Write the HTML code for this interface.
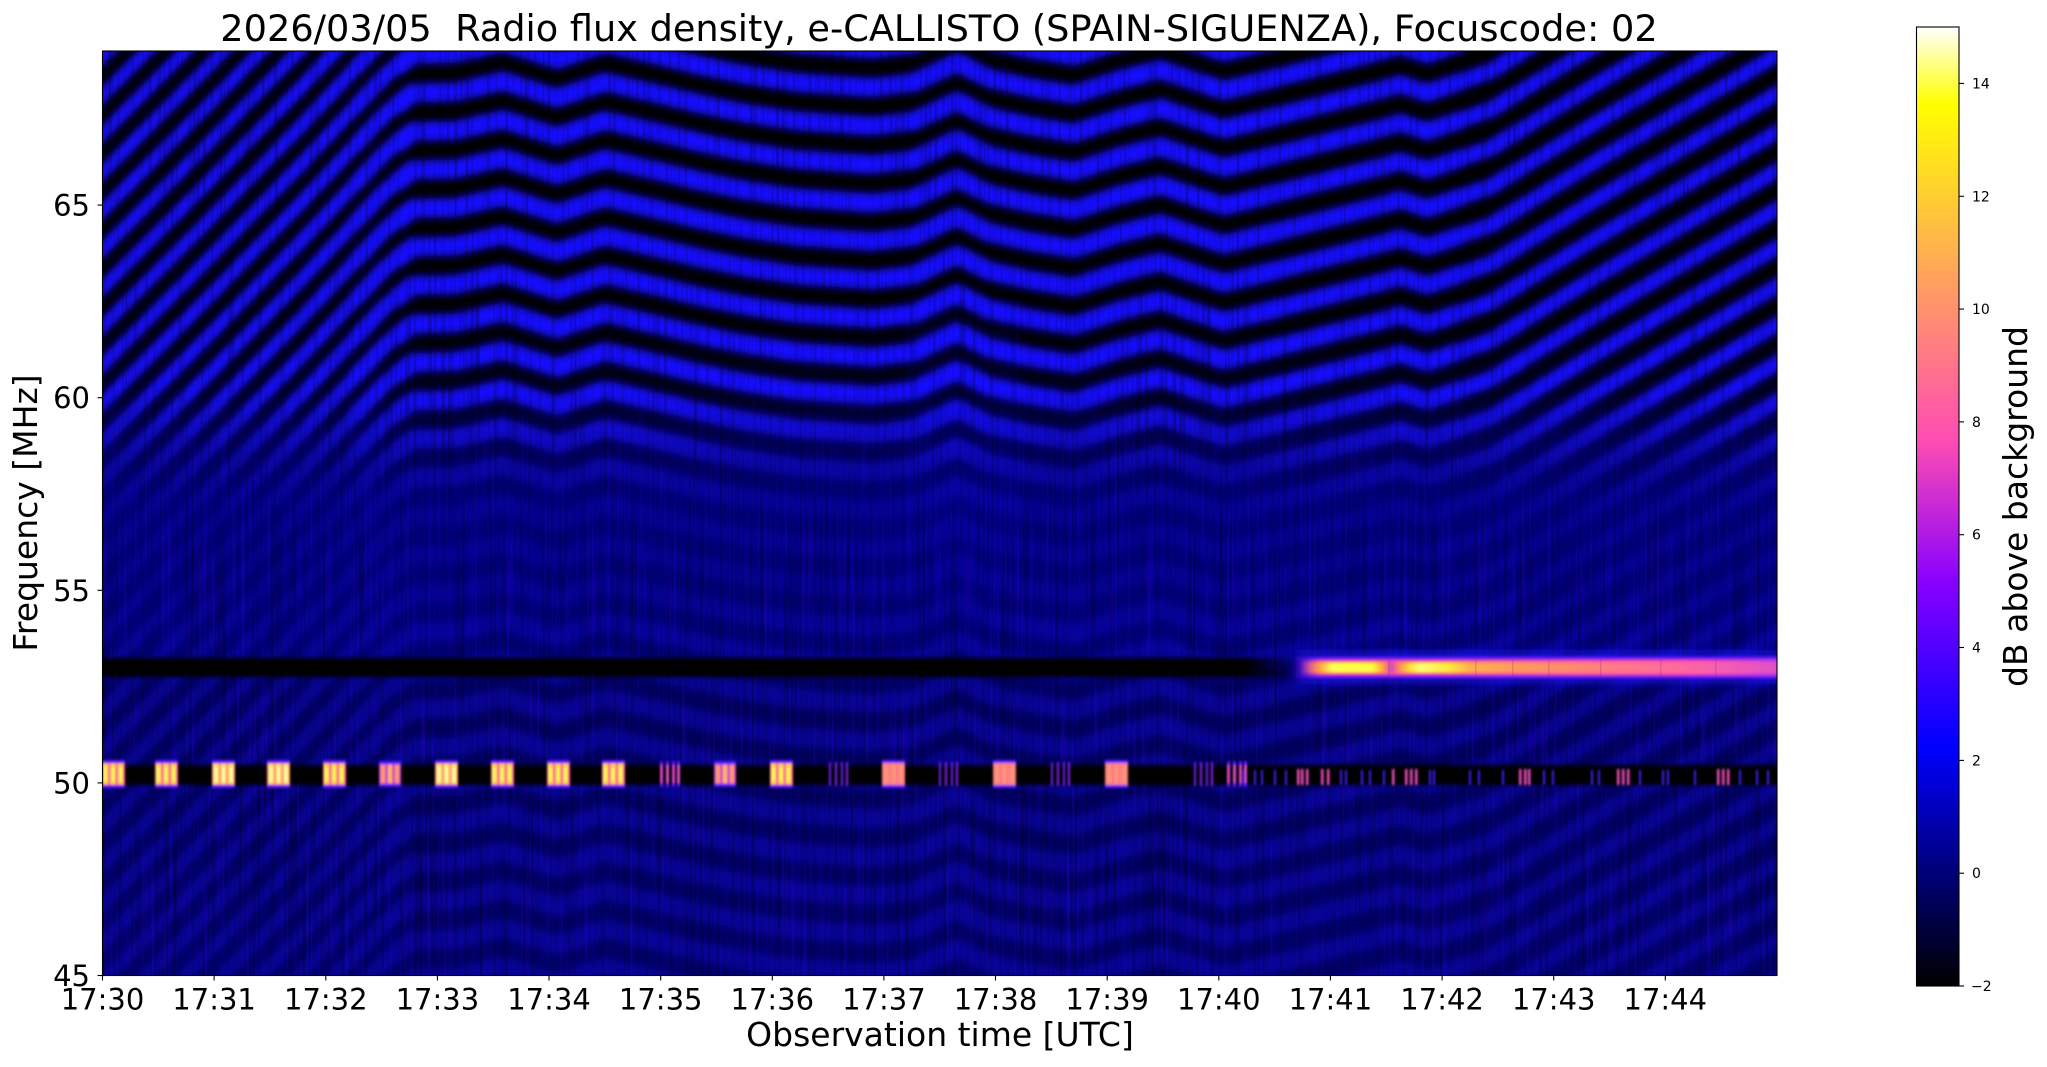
<!DOCTYPE html>
<html><head><meta charset="utf-8">
<style>html,body{margin:0;padding:0;background:#fff;width:2047px;height:1067px;overflow:hidden;}svg{display:block}</style>
</head><body>
<svg width="2047" height="1067" viewBox="0 0 2047 1067" xmlns="http://www.w3.org/2000/svg" xmlns:xlink="http://www.w3.org/1999/xlink" font-family="DejaVu Sans, Liberation Sans, sans-serif">
<defs>
  <clipPath id="pc"><rect x="102.5" y="51" width="1674.5" height="924.5"/></clipPath>
  <linearGradient id="bg" gradientUnits="userSpaceOnUse" x1="0" y1="51" x2="0" y2="975">
    <stop offset="0" stop-color="#000000"/>
    <stop offset="0.29" stop-color="#000004"/>
    <stop offset="0.367" stop-color="#00001c"/>
    <stop offset="0.421" stop-color="#000050"/>
    <stop offset="0.486" stop-color="#000078"/>
    <stop offset="0.637" stop-color="#000074"/>
    <stop offset="0.702" stop-color="#00005c"/>
    <stop offset="1" stop-color="#000066"/>
  </linearGradient>
  <linearGradient id="mg" gradientUnits="userSpaceOnUse" x1="0" y1="51" x2="0" y2="975">
    <stop offset="0" stop-color="#ffffff"/>
    <stop offset="0.367" stop-color="#ffffff"/>
    <stop offset="0.41" stop-color="#bfbfbf"/>
    <stop offset="0.453" stop-color="#666666"/>
    <stop offset="0.496" stop-color="#303030"/>
    <stop offset="0.583" stop-color="#303030"/>
    <stop offset="0.637" stop-color="#474747"/>
    <stop offset="0.702" stop-color="#575757"/>
    <stop offset="1" stop-color="#525252"/>
  </linearGradient>
  <mask id="sm" maskUnits="userSpaceOnUse" x="100" y="49" width="1680" height="930">
    <rect x="100" y="49" width="1680" height="930" fill="url(#mg)"/>
  </mask>
  <linearGradient id="lowg" gradientUnits="userSpaceOnUse" x1="0" y1="380" x2="0" y2="500">
    <stop offset="0" stop-color="#000"/><stop offset="1" stop-color="#fff"/>
  </linearGradient>
  <mask id="lowm" maskUnits="userSpaceOnUse" x="100" y="49" width="1680" height="930">
    <rect x="100" y="49" width="1680" height="930" fill="url(#lowg)"/>
  </mask>
  <filter id="sb" filterUnits="userSpaceOnUse" x="90" y="40" width="1700" height="950">
    <feGaussianBlur stdDeviation="4"/>
  </filter>
  <filter id="nzd" filterUnits="userSpaceOnUse" x="102" y="51" width="1676" height="925">
    <feTurbulence type="fractalNoise" baseFrequency="0.35 0.004" numOctaves="2" seed="7"/>
    <feColorMatrix type="matrix" values="0 0 0 0 0  0 0 0 0 0  0 0 0 0 0  1.6 0 0 0 -0.75"/>
  </filter>
  <filter id="nzb" filterUnits="userSpaceOnUse" x="102" y="51" width="1676" height="925">
    <feTurbulence type="fractalNoise" baseFrequency="0.4 0.006" numOctaves="2" seed="13"/>
    <feColorMatrix type="matrix" values="0 0 0 0 0.05  0 0 0 0 0  0 0 0 0 1  1.6 0 0 0 -0.85"/>
  </filter>
  <filter id="bandblur" filterUnits="userSpaceOnUse" x="90" y="600" width="1700" height="250">
    <feGaussianBlur stdDeviation="0.8 2"/>
  </filter>
  <filter id="glow" filterUnits="userSpaceOnUse" x="1250" y="620" width="560" height="100">
    <feGaussianBlur stdDeviation="5 4"/>
  </filter>
  <filter id="soft" filterUnits="userSpaceOnUse" x="1250" y="620" width="560" height="100">
    <feGaussianBlur stdDeviation="1.5 1.6"/>
  </filter>
  <filter id="fb" filterUnits="userSpaceOnUse" x="90" y="740" width="1700" height="70">
    <feGaussianBlur stdDeviation="1.1 1.3"/>
  </filter>
  <linearGradient id="blk53" gradientUnits="userSpaceOnUse" x1="100" y1="0" x2="1300" y2="0">
    <stop offset="0" stop-color="#000" stop-opacity="1"/>
    <stop offset="0.955" stop-color="#000" stop-opacity="1"/>
    <stop offset="1" stop-color="#000" stop-opacity="0"/>
  </linearGradient>
  <linearGradient id="glow53" gradientUnits="userSpaceOnUse" x1="1285" y1="0" x2="1777" y2="0">
    <stop offset="0" stop-color="#1a14ff" stop-opacity="0"/>
    <stop offset="0.06" stop-color="#1a14ff" stop-opacity="0.55"/>
    <stop offset="1" stop-color="#1a14ff" stop-opacity="0.55"/>
  </linearGradient>
  <linearGradient id="pur53" gradientUnits="userSpaceOnUse" x1="1290" y1="0" x2="1777" y2="0">
    <stop offset="0" stop-color="#7a18ff" stop-opacity="0"/>
    <stop offset="0.06" stop-color="#7a18ff" stop-opacity="1"/>
    <stop offset="1" stop-color="#8a20ff" stop-opacity="1"/>
  </linearGradient>
  <linearGradient id="pink53" gradientUnits="userSpaceOnUse" x1="1300" y1="0" x2="1777" y2="0">
    <stop offset="0" stop-color="#ff50a0" stop-opacity="0"/>
    <stop offset="0.045" stop-color="#ff50a0" stop-opacity="1"/>
    <stop offset="0.84" stop-color="#ff50a8" stop-opacity="1"/>
    <stop offset="1" stop-color="#c040e0" stop-opacity="1"/>
  </linearGradient>
  <linearGradient id="core53" gradientUnits="userSpaceOnUse" x1="1300" y1="0" x2="1777" y2="0">
    <stop offset="0" stop-color="#ff6080" stop-opacity="0"/>
    <stop offset="0.04" stop-color="#ffa040" stop-opacity="1"/>
    <stop offset="0.067" stop-color="#ffff50"/>
    <stop offset="0.151" stop-color="#ffff40"/>
    <stop offset="0.176" stop-color="#ff9a40"/>
    <stop offset="0.191" stop-color="#d040d0"/>
    <stop offset="0.205" stop-color="#ff8060"/>
    <stop offset="0.231" stop-color="#ffe030"/>
    <stop offset="0.252" stop-color="#ffff70"/>
    <stop offset="0.314" stop-color="#ffe838"/>
    <stop offset="0.356" stop-color="#ffb050"/>
    <stop offset="0.461" stop-color="#ff9860"/>
    <stop offset="0.566" stop-color="#ff8a70"/>
    <stop offset="0.671" stop-color="#ff7888"/>
    <stop offset="0.797" stop-color="#ff68a0"/>
    <stop offset="0.922" stop-color="#f058b8"/>
    <stop offset="1" stop-color="#e050c8"/>
  </linearGradient>
  <linearGradient id="cbar" x1="0" y1="1" x2="0" y2="0">
    <stop offset="0" stop-color="#000000"/>
    <stop offset="0.25" stop-color="#0000ff"/>
    <stop offset="0.42" stop-color="#8700ff"/>
    <stop offset="0.5703" stop-color="#ff4db2"/>
    <stop offset="0.92" stop-color="#ffff00"/>
    <stop offset="1" stop-color="#ffffff"/>
  </linearGradient>

  <path id="A1" d="M85,575 L103,557 L125,535"/>
  <path id="A2" d="M125,535 L165,495"/>
  <path id="A3" d="M165,495 L200,460 L205,454.9"/>
  <path id="A4" d="M205,454.9 L244,415.1"/>
  <path id="A5" d="M244,415.1 L283,375.3"/>
  <path id="A6" d="M283,375.3 L300,358 L320,336.8"/>
  <path id="A7" d="M320,336.8 L350,305 L357,297.6"/>
  <path id="A8" d="M357,297.6 L385,268 L399,257.5"/>
  <path id="M1" d="M399,257.5 L413,247 L455,246 L503,235 L557,252 L605,236 L658,248 L700,258 L744,267"/>
  <path id="M2" d="M744,267 L797,275 L872,280 L914,275 L957,255 L989,271 L1030,280 L1074,287 L1120,272 L1160,262 L1190,272 L1224,283 L1277,270"/>
  <path id="M3" d="M1277,270 L1384,243 L1400,238 L1427,247 L1459,236"/>
  <path id="R1" d="M1459,236 L1491,225 L1520,207.4"/>
  <path id="R2" d="M1520,207.4 L1585,167.9"/>
  <path id="R3" d="M1585,167.9 L1598,160 L1650,129.4"/>
  <path id="R4" d="M1650,129.4 L1700,100 L1716,90.7"/>
  <path id="R5" d="M1716,90.7 L1777,55 L1785,50.3"/>

  <g id="bW">
    <rect y="760" width="23" height="28" fill="#5020ff"/>
    <rect y="763" width="23" height="22" fill="#ff5a98"/>
    <rect x="1" y="764" width="6" height="20" fill="#ffe030"/>
    <rect x="8.5" y="764" width="6" height="20" fill="#ffe030"/>
    <rect x="16" y="764" width="6" height="20" fill="#ffe030"/>
    <rect x="3" y="766" width="2" height="16" fill="#ffffd0"/>
    <rect x="10.5" y="766" width="2" height="16" fill="#ffffd0"/>
    <rect x="18" y="766" width="2" height="16" fill="#ffffd0"/>
  </g>
  <g id="bB">
    <rect y="760" width="23" height="28" fill="#5020ff"/>
    <rect y="763" width="23" height="22" fill="#ff5a98"/>
    <rect x="1" y="764" width="5" height="20" fill="#ffd830"/>
    <rect x="8.5" y="764" width="5" height="20" fill="#ffd830"/>
    <rect x="16" y="764" width="5" height="20" fill="#ffd830"/>
    <rect x="2.5" y="767" width="2" height="14" fill="#ffff70"/>
    <rect x="10" y="767" width="2" height="14" fill="#ffff70"/>
    <rect x="17.5" y="767" width="2" height="14" fill="#ffff70"/>
  </g>
  <g id="bM">
    <rect y="761" width="22" height="26" fill="#4020ff"/>
    <rect y="764" width="22" height="20" fill="#d040c8"/>
    <rect x="2" y="765" width="4" height="18" fill="#ff9a68"/>
    <rect x="9" y="765" width="4" height="18" fill="#ffb850"/>
    <rect x="16" y="765" width="4" height="18" fill="#ff9a68"/>
  </g>
  <g id="bS">
    <rect y="760" width="23" height="28" fill="#5020ff"/>
    <rect y="763" width="23" height="22" fill="#ff7c88"/>
    <rect x="2" y="765" width="4" height="18" fill="#ff9476"/>
    <rect x="9.5" y="765" width="4" height="18" fill="#ff9476"/>
    <rect x="17" y="765" width="4" height="18" fill="#ff9476"/>
  </g>
  <g id="bD">
    <rect x="1" y="762" width="2" height="24" fill="#6a20ff"/>
    <rect x="7" y="762" width="2" height="24" fill="#8a24ff"/>
    <rect x="13" y="762" width="2" height="24" fill="#6a20ff"/>
    <rect x="18" y="762" width="2" height="24" fill="#8a24ff"/>
  </g>
  <g id="bP">
    <rect x="1" y="761" width="3" height="26" fill="#5a18ff"/>
    <rect x="7" y="761" width="3" height="26" fill="#5a18ff"/>
    <rect x="13" y="761" width="3" height="26" fill="#5a18ff"/>
    <rect x="18" y="761" width="3" height="26" fill="#5a18ff"/>
    <rect x="1.5" y="765" width="2" height="18" fill="#ff50b0"/>
    <rect x="7.5" y="765" width="2" height="18" fill="#ff60a0"/>
    <rect x="13.5" y="765" width="2" height="18" fill="#ff50b0"/>
    <rect x="18.5" y="765" width="2" height="18" fill="#ff60a0"/>
  </g>
</defs>

<rect x="0" y="0" width="2047" height="1067" fill="#ffffff"/>

<g clip-path="url(#pc)">
  <rect x="102" y="51" width="1676" height="925" fill="url(#bg)"/>
  <g mask="url(#sm)">
    <g filter="url(#sb)" fill="none" stroke="#1608ff" stroke-width="19" stroke-linecap="round" stroke-linejoin="round">
      <g stroke-width="13">
        <use href="#A1" y="-500.5"/><use href="#A1" y="-462"/><use href="#A1" y="-423.5"/><use href="#A1" y="-385"/><use href="#A1" y="-346.5"/><use href="#A1" y="-308"/><use href="#A1" y="-269.5"/><use href="#A1" y="-231"/><use href="#A1" y="-192.5"/><use href="#A1" y="-154"/><use href="#A1" y="-115.5"/><use href="#A1" y="-77"/><use href="#A1" y="-38.5"/><use href="#A1" y="0"/><use href="#A1" y="38.5"/><use href="#A1" y="77"/><use href="#A1" y="115.5"/><use href="#A1" y="154"/><use href="#A1" y="192.5"/><use href="#A1" y="231"/><use href="#A1" y="269.5"/><use href="#A1" y="308"/><use href="#A1" y="346.5"/><use href="#A1" y="385"/><use href="#A1" y="423.5"/>
      </g>
      <g stroke-width="13">
        <use href="#A2" y="-462"/><use href="#A2" y="-423.5"/><use href="#A2" y="-385"/><use href="#A2" y="-346.5"/><use href="#A2" y="-308"/><use href="#A2" y="-269.5"/><use href="#A2" y="-231"/><use href="#A2" y="-192.5"/><use href="#A2" y="-154"/><use href="#A2" y="-115.5"/><use href="#A2" y="-77"/><use href="#A2" y="-38.5"/><use href="#A2" y="0"/><use href="#A2" y="38.5"/><use href="#A2" y="77"/><use href="#A2" y="115.5"/><use href="#A2" y="154"/><use href="#A2" y="192.5"/><use href="#A2" y="231"/><use href="#A2" y="269.5"/><use href="#A2" y="308"/><use href="#A2" y="346.5"/><use href="#A2" y="385"/><use href="#A2" y="423.5"/><use href="#A2" y="462"/>
      </g>
      <g stroke-width="13">
        <use href="#A3" y="-423.5"/><use href="#A3" y="-385"/><use href="#A3" y="-346.5"/><use href="#A3" y="-308"/><use href="#A3" y="-269.5"/><use href="#A3" y="-231"/><use href="#A3" y="-192.5"/><use href="#A3" y="-154"/><use href="#A3" y="-115.5"/><use href="#A3" y="-77"/><use href="#A3" y="-38.5"/><use href="#A3" y="0"/><use href="#A3" y="38.5"/><use href="#A3" y="77"/><use href="#A3" y="115.5"/><use href="#A3" y="154"/><use href="#A3" y="192.5"/><use href="#A3" y="231"/><use href="#A3" y="269.5"/><use href="#A3" y="308"/><use href="#A3" y="346.5"/><use href="#A3" y="385"/><use href="#A3" y="423.5"/><use href="#A3" y="462"/><use href="#A3" y="500.5"/>
      </g>
      <g stroke-width="13">
        <use href="#A4" y="-385"/><use href="#A4" y="-346.5"/><use href="#A4" y="-308"/><use href="#A4" y="-269.5"/><use href="#A4" y="-231"/><use href="#A4" y="-192.5"/><use href="#A4" y="-154"/><use href="#A4" y="-115.5"/><use href="#A4" y="-77"/><use href="#A4" y="-38.5"/><use href="#A4" y="0"/><use href="#A4" y="38.5"/><use href="#A4" y="77"/><use href="#A4" y="115.5"/><use href="#A4" y="154"/><use href="#A4" y="192.5"/><use href="#A4" y="231"/><use href="#A4" y="269.5"/><use href="#A4" y="308"/><use href="#A4" y="346.5"/><use href="#A4" y="385"/><use href="#A4" y="423.5"/><use href="#A4" y="462"/><use href="#A4" y="500.5"/><use href="#A4" y="539"/>
      </g>
      <g stroke-width="13">
        <use href="#A5" y="-346.5"/><use href="#A5" y="-308"/><use href="#A5" y="-269.5"/><use href="#A5" y="-231"/><use href="#A5" y="-192.5"/><use href="#A5" y="-154"/><use href="#A5" y="-115.5"/><use href="#A5" y="-77"/><use href="#A5" y="-38.5"/><use href="#A5" y="0"/><use href="#A5" y="38.5"/><use href="#A5" y="77"/><use href="#A5" y="115.5"/><use href="#A5" y="154"/><use href="#A5" y="192.5"/><use href="#A5" y="231"/><use href="#A5" y="269.5"/><use href="#A5" y="308"/><use href="#A5" y="346.5"/><use href="#A5" y="385"/><use href="#A5" y="423.5"/><use href="#A5" y="462"/><use href="#A5" y="500.5"/><use href="#A5" y="539"/><use href="#A5" y="577.5"/>
      </g>
      <g stroke-width="13.5">
        <use href="#A6" y="-308"/><use href="#A6" y="-269.5"/><use href="#A6" y="-231"/><use href="#A6" y="-192.5"/><use href="#A6" y="-154"/><use href="#A6" y="-115.5"/><use href="#A6" y="-77"/><use href="#A6" y="-38.5"/><use href="#A6" y="0"/><use href="#A6" y="38.5"/><use href="#A6" y="77"/><use href="#A6" y="115.5"/><use href="#A6" y="154"/><use href="#A6" y="192.5"/><use href="#A6" y="231"/><use href="#A6" y="269.5"/><use href="#A6" y="308"/><use href="#A6" y="346.5"/><use href="#A6" y="385"/><use href="#A6" y="423.5"/><use href="#A6" y="462"/><use href="#A6" y="500.5"/><use href="#A6" y="539"/><use href="#A6" y="577.5"/><use href="#A6" y="616"/>
      </g>
      <g stroke-width="14">
        <use href="#A7" y="-269.5"/><use href="#A7" y="-231"/><use href="#A7" y="-192.5"/><use href="#A7" y="-154"/><use href="#A7" y="-115.5"/><use href="#A7" y="-77"/><use href="#A7" y="-38.5"/><use href="#A7" y="0"/><use href="#A7" y="38.5"/><use href="#A7" y="77"/><use href="#A7" y="115.5"/><use href="#A7" y="154"/><use href="#A7" y="192.5"/><use href="#A7" y="231"/><use href="#A7" y="269.5"/><use href="#A7" y="308"/><use href="#A7" y="346.5"/><use href="#A7" y="385"/><use href="#A7" y="423.5"/><use href="#A7" y="462"/><use href="#A7" y="500.5"/><use href="#A7" y="539"/><use href="#A7" y="577.5"/><use href="#A7" y="616"/><use href="#A7" y="654.5"/>
      </g>
      <g stroke-width="16">
        <use href="#A8" y="-231"/><use href="#A8" y="-192.5"/><use href="#A8" y="-154"/><use href="#A8" y="-115.5"/><use href="#A8" y="-77"/><use href="#A8" y="-38.5"/><use href="#A8" y="0"/><use href="#A8" y="38.5"/><use href="#A8" y="77"/><use href="#A8" y="115.5"/><use href="#A8" y="154"/><use href="#A8" y="192.5"/><use href="#A8" y="231"/><use href="#A8" y="269.5"/><use href="#A8" y="308"/><use href="#A8" y="346.5"/><use href="#A8" y="385"/><use href="#A8" y="423.5"/><use href="#A8" y="462"/><use href="#A8" y="500.5"/><use href="#A8" y="539"/><use href="#A8" y="577.5"/><use href="#A8" y="616"/><use href="#A8" y="654.5"/><use href="#A8" y="693"/>
      </g>
      <g>
        <use href="#M1" y="-192.5"/><use href="#M1" y="-154"/><use href="#M1" y="-115.5"/><use href="#M1" y="-77"/><use href="#M1" y="-38.5"/><use href="#M1" y="0"/><use href="#M1" y="38.5"/><use href="#M1" y="77"/><use href="#M1" y="115.5"/><use href="#M1" y="154"/><use href="#M1" y="192.5"/><use href="#M1" y="231"/><use href="#M1" y="269.5"/><use href="#M1" y="308"/><use href="#M1" y="346.5"/><use href="#M1" y="385"/><use href="#M1" y="423.5"/><use href="#M1" y="462"/><use href="#M1" y="500.5"/><use href="#M1" y="539"/><use href="#M1" y="577.5"/><use href="#M1" y="616"/><use href="#M1" y="654.5"/><use href="#M1" y="693"/><use href="#M1" y="731.5"/>
      </g>
      <g>
        <use href="#M2" y="-231"/><use href="#M2" y="-192.5"/><use href="#M2" y="-154"/><use href="#M2" y="-115.5"/><use href="#M2" y="-77"/><use href="#M2" y="-38.5"/><use href="#M2" y="0"/><use href="#M2" y="38.5"/><use href="#M2" y="77"/><use href="#M2" y="115.5"/><use href="#M2" y="154"/><use href="#M2" y="192.5"/><use href="#M2" y="231"/><use href="#M2" y="269.5"/><use href="#M2" y="308"/><use href="#M2" y="346.5"/><use href="#M2" y="385"/><use href="#M2" y="423.5"/><use href="#M2" y="462"/><use href="#M2" y="500.5"/><use href="#M2" y="539"/><use href="#M2" y="577.5"/><use href="#M2" y="616"/><use href="#M2" y="654.5"/><use href="#M2" y="693"/>
      </g>
      <g stroke-width="18">
        <use href="#M3" y="-192.5"/><use href="#M3" y="-154"/><use href="#M3" y="-115.5"/><use href="#M3" y="-77"/><use href="#M3" y="-38.5"/><use href="#M3" y="0"/><use href="#M3" y="38.5"/><use href="#M3" y="77"/><use href="#M3" y="115.5"/><use href="#M3" y="154"/><use href="#M3" y="192.5"/><use href="#M3" y="231"/><use href="#M3" y="269.5"/><use href="#M3" y="308"/><use href="#M3" y="346.5"/><use href="#M3" y="385"/><use href="#M3" y="423.5"/><use href="#M3" y="462"/><use href="#M3" y="500.5"/><use href="#M3" y="539"/><use href="#M3" y="577.5"/><use href="#M3" y="616"/><use href="#M3" y="654.5"/><use href="#M3" y="693"/><use href="#M3" y="731.5"/>
      </g>
      <g stroke-width="16">
        <use href="#R1" y="-154"/><use href="#R1" y="-115.5"/><use href="#R1" y="-77"/><use href="#R1" y="-38.5"/><use href="#R1" y="0"/><use href="#R1" y="38.5"/><use href="#R1" y="77"/><use href="#R1" y="115.5"/><use href="#R1" y="154"/><use href="#R1" y="192.5"/><use href="#R1" y="231"/><use href="#R1" y="269.5"/><use href="#R1" y="308"/><use href="#R1" y="346.5"/><use href="#R1" y="385"/><use href="#R1" y="423.5"/><use href="#R1" y="462"/><use href="#R1" y="500.5"/><use href="#R1" y="539"/><use href="#R1" y="577.5"/><use href="#R1" y="616"/><use href="#R1" y="654.5"/><use href="#R1" y="693"/><use href="#R1" y="731.5"/><use href="#R1" y="770"/>
      </g>
      <g stroke-width="15">
        <use href="#R2" y="-154"/><use href="#R2" y="-115.5"/><use href="#R2" y="-77"/><use href="#R2" y="-38.5"/><use href="#R2" y="0"/><use href="#R2" y="38.5"/><use href="#R2" y="77"/><use href="#R2" y="115.5"/><use href="#R2" y="154"/><use href="#R2" y="192.5"/><use href="#R2" y="231"/><use href="#R2" y="269.5"/><use href="#R2" y="308"/><use href="#R2" y="346.5"/><use href="#R2" y="385"/><use href="#R2" y="423.5"/><use href="#R2" y="462"/><use href="#R2" y="500.5"/><use href="#R2" y="539"/><use href="#R2" y="577.5"/><use href="#R2" y="616"/><use href="#R2" y="654.5"/><use href="#R2" y="693"/><use href="#R2" y="731.5"/><use href="#R2" y="770"/><use href="#R2" y="808.5"/>
      </g>
      <g stroke-width="15">
        <use href="#R3" y="-115.5"/><use href="#R3" y="-77"/><use href="#R3" y="-38.5"/><use href="#R3" y="0"/><use href="#R3" y="38.5"/><use href="#R3" y="77"/><use href="#R3" y="115.5"/><use href="#R3" y="154"/><use href="#R3" y="192.5"/><use href="#R3" y="231"/><use href="#R3" y="269.5"/><use href="#R3" y="308"/><use href="#R3" y="346.5"/><use href="#R3" y="385"/><use href="#R3" y="423.5"/><use href="#R3" y="462"/><use href="#R3" y="500.5"/><use href="#R3" y="539"/><use href="#R3" y="577.5"/><use href="#R3" y="616"/><use href="#R3" y="654.5"/><use href="#R3" y="693"/><use href="#R3" y="731.5"/><use href="#R3" y="770"/><use href="#R3" y="808.5"/><use href="#R3" y="847"/>
      </g>
      <g stroke-width="15">
        <use href="#R4" y="-77"/><use href="#R4" y="-38.5"/><use href="#R4" y="0"/><use href="#R4" y="38.5"/><use href="#R4" y="77"/><use href="#R4" y="115.5"/><use href="#R4" y="154"/><use href="#R4" y="192.5"/><use href="#R4" y="231"/><use href="#R4" y="269.5"/><use href="#R4" y="308"/><use href="#R4" y="346.5"/><use href="#R4" y="385"/><use href="#R4" y="423.5"/><use href="#R4" y="462"/><use href="#R4" y="500.5"/><use href="#R4" y="539"/><use href="#R4" y="577.5"/><use href="#R4" y="616"/><use href="#R4" y="654.5"/><use href="#R4" y="693"/><use href="#R4" y="731.5"/><use href="#R4" y="770"/><use href="#R4" y="808.5"/><use href="#R4" y="847"/><use href="#R4" y="885.5"/>
      </g>
      <g stroke-width="15">
        <use href="#R5" y="-38.5"/><use href="#R5" y="0"/><use href="#R5" y="38.5"/><use href="#R5" y="77"/><use href="#R5" y="115.5"/><use href="#R5" y="154"/><use href="#R5" y="192.5"/><use href="#R5" y="231"/><use href="#R5" y="269.5"/><use href="#R5" y="308"/><use href="#R5" y="346.5"/><use href="#R5" y="385"/><use href="#R5" y="423.5"/><use href="#R5" y="462"/><use href="#R5" y="500.5"/><use href="#R5" y="539"/><use href="#R5" y="577.5"/><use href="#R5" y="616"/><use href="#R5" y="654.5"/><use href="#R5" y="693"/><use href="#R5" y="731.5"/><use href="#R5" y="770"/><use href="#R5" y="808.5"/><use href="#R5" y="847"/><use href="#R5" y="885.5"/><use href="#R5" y="924"/>
      </g>
    </g>
  </g>
  <rect x="905" y="300" width="115" height="300" fill="#0a0aff" opacity="0.07"/>
  <!-- noise streaks -->
  <rect x="102" y="51" width="1676" height="925" fill="#000" filter="url(#nzd)" opacity="0.55"/>
  <g mask="url(#lowm)">
    <rect x="102" y="51" width="1676" height="925" fill="#00f" filter="url(#nzb)" opacity="0.5"/>
  </g>

  <!-- black bands -->
  <g filter="url(#bandblur)">
    <rect x="100" y="658" width="1200" height="19" fill="url(#blk53)"/>
    <rect x="100" y="765" width="1680" height="20" fill="#000"/>
  </g>
  <!-- 53 MHz bright band -->
  <rect x="1285" y="650" width="495" height="34" fill="url(#glow53)" filter="url(#glow)"/>
  <rect x="1290" y="657" width="490" height="21" fill="url(#pur53)" filter="url(#soft)"/>
  <rect x="1300" y="660" width="480" height="15" fill="url(#pink53)" filter="url(#soft)"/>
  <rect x="1300" y="662" width="480" height="11" fill="url(#core53)" filter="url(#soft)"/>
  <g fill="#802090" opacity="0.22">
    <rect x="1388" y="659" width="1.5" height="17"/><rect x="1475" y="659" width="1.5" height="17"/>
    <rect x="1512" y="659" width="1.5" height="17"/><rect x="1548" y="659" width="1.5" height="17"/>
    <rect x="1600" y="659" width="1.5" height="17"/><rect x="1660" y="659" width="1.5" height="17"/>
    <rect x="1715" y="659" width="1.5" height="17"/>
  </g>

  <!-- 50.3 MHz blobs -->
  <g filter="url(#fb)">
    <use href="#bB" x="102"/>
    <use href="#bB" x="155"/>
    <use href="#bW" x="212"/>
    <use href="#bW" x="267"/>
    <use href="#bB" x="323"/>
    <use href="#bM" x="379"/>
    <use href="#bW" x="435"/>
    <use href="#bB" x="491"/>
    <use href="#bB" x="547"/>
    <use href="#bB" x="602"/>
    <use href="#bP" x="659"/>
    <use href="#bM" x="714"/>
    <use href="#bB" x="770"/>
    <use href="#bD" x="828"/>
    <use href="#bS" x="882"/>
    <use href="#bD" x="938"/>
    <use href="#bS" x="993"/>
    <use href="#bD" x="1050"/>
    <use href="#bS" x="1105"/>
    <use href="#bD" x="1193"/>
    <use href="#bP" x="1226"/>
    <g fill="#3a20ff">
      <rect x="1243" y="770" width="2" height="15"/><rect x="1254" y="770" width="2" height="15"/>
      <rect x="1261" y="770" width="2" height="15"/><rect x="1274" y="770" width="2" height="15"/>
      <rect x="1285" y="770" width="2" height="15"/><rect x="1340" y="770" width="2" height="15"/>
      <rect x="1345" y="770" width="2" height="15"/><rect x="1361" y="770" width="2" height="15"/>
      <rect x="1369" y="770" width="2" height="15"/><rect x="1383" y="770" width="2" height="15"/>
      <rect x="1429" y="770" width="2" height="15"/><rect x="1433" y="770" width="2" height="15"/>
      <rect x="1469" y="770" width="2" height="15"/><rect x="1478" y="770" width="2" height="15"/>
      <rect x="1502" y="770" width="2" height="15"/><rect x="1543" y="770" width="2" height="15"/>
      <rect x="1552" y="770" width="2" height="15"/><rect x="1591" y="770" width="2" height="15"/>
      <rect x="1598" y="770" width="2" height="15"/><rect x="1639" y="770" width="2" height="15"/>
      <rect x="1662" y="770" width="2" height="15"/><rect x="1667" y="770" width="2" height="15"/>
      <rect x="1694" y="770" width="2" height="15"/><rect x="1739" y="770" width="2" height="15"/>
      <rect x="1756" y="770" width="2" height="15"/><rect x="1767" y="770" width="2" height="15"/>
    </g>
    <g fill="#f050c0">
      <rect x="1297" y="769" width="2.5" height="16"/><rect x="1301" y="769" width="2.5" height="16"/>
      <rect x="1306" y="769" width="2.5" height="16"/><rect x="1321" y="769" width="2.5" height="16"/>
      <rect x="1327" y="769" width="2.5" height="16"/><rect x="1392" y="769" width="2.5" height="16"/>
      <rect x="1405" y="769" width="2.5" height="16"/><rect x="1410" y="769" width="2.5" height="16"/>
      <rect x="1415" y="769" width="2.5" height="16"/><rect x="1519" y="769" width="2.5" height="16"/>
      <rect x="1524" y="769" width="2.5" height="16"/><rect x="1528" y="769" width="2.5" height="16"/>
      <rect x="1617" y="769" width="2.5" height="16"/><rect x="1622" y="769" width="2.5" height="16"/>
      <rect x="1627" y="769" width="2.5" height="16"/><rect x="1717" y="769" width="2.5" height="16"/>
      <rect x="1722" y="769" width="2.5" height="16"/><rect x="1727" y="769" width="2.5" height="16"/>
    </g>
  </g>
</g>

<!-- axes frame -->
<rect x="102.5" y="51" width="1674.5" height="924.5" fill="none" stroke="#000" stroke-width="1.1"/>

<!-- ticks -->
<g stroke="#000" stroke-width="1.1">
  <line x1="102.5" y1="975.5" x2="102.5" y2="980.5"/>
  <line x1="214.1" y1="975.5" x2="214.1" y2="980.5"/>
  <line x1="325.8" y1="975.5" x2="325.8" y2="980.5"/>
  <line x1="437.4" y1="975.5" x2="437.4" y2="980.5"/>
  <line x1="549.0" y1="975.5" x2="549.0" y2="980.5"/>
  <line x1="660.7" y1="975.5" x2="660.7" y2="980.5"/>
  <line x1="772.3" y1="975.5" x2="772.3" y2="980.5"/>
  <line x1="883.9" y1="975.5" x2="883.9" y2="980.5"/>
  <line x1="995.5" y1="975.5" x2="995.5" y2="980.5"/>
  <line x1="1107.2" y1="975.5" x2="1107.2" y2="980.5"/>
  <line x1="1218.8" y1="975.5" x2="1218.8" y2="980.5"/>
  <line x1="1330.4" y1="975.5" x2="1330.4" y2="980.5"/>
  <line x1="1442.1" y1="975.5" x2="1442.1" y2="980.5"/>
  <line x1="1553.7" y1="975.5" x2="1553.7" y2="980.5"/>
  <line x1="1665.3" y1="975.5" x2="1665.3" y2="980.5"/>
  <line x1="97.5" y1="975.5" x2="102.5" y2="975.5"/>
  <line x1="97.5" y1="782.9" x2="102.5" y2="782.9"/>
  <line x1="97.5" y1="590.3" x2="102.5" y2="590.3"/>
  <line x1="97.5" y1="397.7" x2="102.5" y2="397.7"/>
  <line x1="97.5" y1="205.1" x2="102.5" y2="205.1"/>
</g>

<g font-size="29" fill="#000" text-anchor="middle">
  <text x="102.5" y="1009.5">17:30</text>
  <text x="214.1" y="1009.5">17:31</text>
  <text x="325.8" y="1009.5">17:32</text>
  <text x="437.4" y="1009.5">17:33</text>
  <text x="549.0" y="1009.5">17:34</text>
  <text x="660.7" y="1009.5">17:35</text>
  <text x="772.3" y="1009.5">17:36</text>
  <text x="883.9" y="1009.5">17:37</text>
  <text x="995.5" y="1009.5">17:38</text>
  <text x="1107.2" y="1009.5">17:39</text>
  <text x="1218.8" y="1009.5">17:40</text>
  <text x="1330.4" y="1009.5">17:41</text>
  <text x="1442.1" y="1009.5">17:42</text>
  <text x="1553.7" y="1009.5">17:43</text>
  <text x="1665.3" y="1009.5">17:44</text>
</g>
<g font-size="29" fill="#000" text-anchor="end">
  <text x="90" y="986">45</text>
  <text x="90" y="793.4">50</text>
  <text x="90" y="600.8">55</text>
  <text x="90" y="408.2">60</text>
  <text x="90" y="215.6">65</text>
</g>

<text x="940" y="1046" font-size="33" text-anchor="middle" fill="#000">Observation time [UTC]</text>
<text transform="translate(37,513) rotate(-90)" font-size="33" text-anchor="middle" fill="#000">Frequency [MHz]</text>
<text x="939" y="41" font-size="36.7" text-anchor="middle" fill="#000">2026/03/05&#160; Radio flux density, e-CALLISTO (SPAIN-SIGUENZA), Focuscode: 02</text>

<!-- colorbar -->
<rect x="1916.5" y="27" width="42.5" height="959" fill="url(#cbar)" stroke="#000" stroke-width="1.1"/>
<g stroke="#000" stroke-width="1.1">
  <line x1="1959" y1="986" x2="1964" y2="986"/>
  <line x1="1959" y1="873.2" x2="1964" y2="873.2"/>
  <line x1="1959" y1="760.4" x2="1964" y2="760.4"/>
  <line x1="1959" y1="647.5" x2="1964" y2="647.5"/>
  <line x1="1959" y1="534.7" x2="1964" y2="534.7"/>
  <line x1="1959" y1="421.9" x2="1964" y2="421.9"/>
  <line x1="1959" y1="309.1" x2="1964" y2="309.1"/>
  <line x1="1959" y1="196.3" x2="1964" y2="196.3"/>
  <line x1="1959" y1="83.4" x2="1964" y2="83.4"/>
</g>
<g font-size="14" fill="#000">
  <text x="1971" y="991">−2</text>
  <text x="1972" y="878.2">0</text>
  <text x="1972" y="765.4">2</text>
  <text x="1972" y="652.5">4</text>
  <text x="1972" y="539.7">6</text>
  <text x="1972" y="426.9">8</text>
  <text x="1972" y="314.1">10</text>
  <text x="1972" y="201.3">12</text>
  <text x="1972" y="88.4">14</text>
</g>
<text transform="translate(2027,506.5) rotate(-90)" font-size="33" text-anchor="middle" fill="#000">dB above background</text>
</svg>
</body></html>
